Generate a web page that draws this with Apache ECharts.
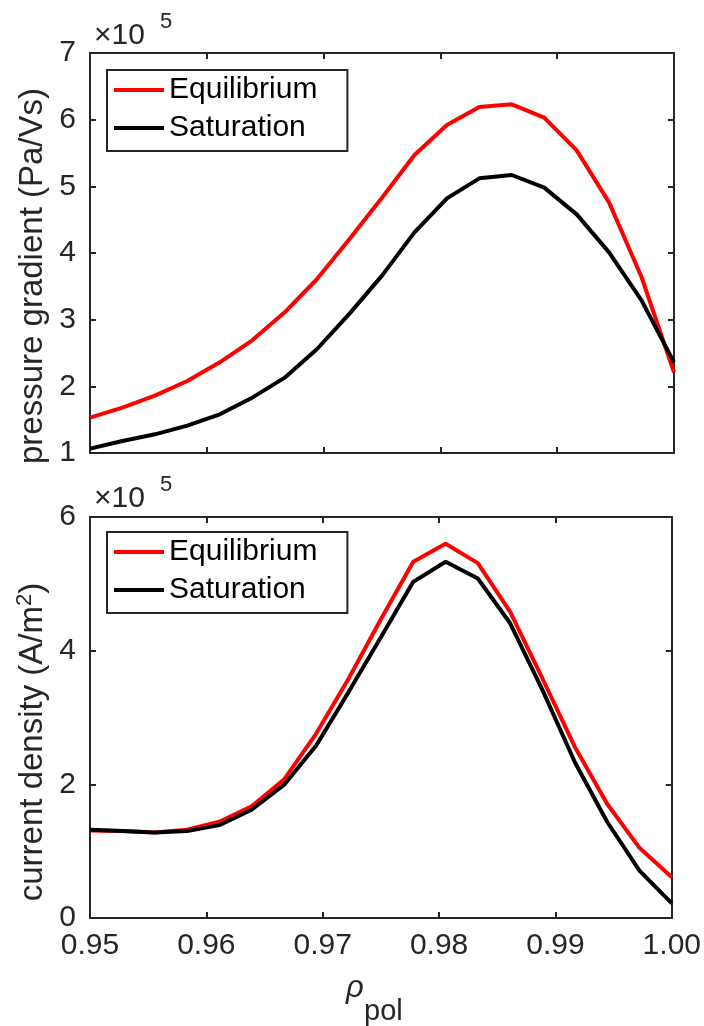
<!DOCTYPE html>
<html>
<head>
<meta charset="utf-8">
<script src="https://cdn.jsdelivr.net/npm/echarts@6/dist/echarts.min.js"></script>
<style>
html,body{margin:0;padding:0;background:#fff;}
#c{width:704px;height:1026px;}
</style>
</head>
<body>
<div id="c"></div>
<script>
// rho_pol grid (19 points)
const rho = [0.95000, 0.95278, 0.95556, 0.95833, 0.96111, 0.96389, 0.96667, 0.96944, 0.97222,
             0.97500, 0.97778, 0.98056, 0.98333, 0.98611, 0.98889, 0.99167, 0.99444, 0.99722, 1.00000];
// pressure gradient (x1e5 Pa/Vs)
const pgEquilibrium = [1.53, 1.68, 1.86, 2.08, 2.36, 2.69, 3.11, 3.61, 4.21, 4.83,
                       5.47, 5.92, 6.19, 6.23, 6.03, 5.54, 4.76, 3.64, 2.21];
const pgSaturation  = [1.065, 1.18, 1.28, 1.41, 1.58, 1.83, 2.13, 2.56, 3.09, 3.66,
                       4.31, 4.82, 5.12, 5.17, 4.98, 4.58, 4.01, 3.29, 2.36];
// current density (x1e5 A/m^2)
const jEquilibrium = [1.31, 1.30, 1.28, 1.32, 1.44, 1.67, 2.07, 2.76, 3.58, 4.47,
                      5.33, 5.60, 5.31, 4.58, 3.58, 2.56, 1.71, 1.05, 0.61];
const jSaturation  = [1.32, 1.30, 1.28, 1.30, 1.39, 1.62, 1.99, 2.58, 3.38, 4.20,
                      5.03, 5.33, 5.08, 4.41, 3.41, 2.33, 1.44, 0.71, 0.22];
const seriesNames = ['Equilibrium', 'Saturation'];
const seriesColors = ['#ff0000', '#000000'];
const yLabelTop = 'pressure gradient (Pa/Vs)';
const yLabelBottom = 'current density (A/m{sup|2})';

const FONT = '"Liberation Sans", Arial, Helvetica, sans-serif';
const AX = '#262626';

const pair = (xs, ys) => xs.map((x, i) => [x, ys[i]]);

function xAx(gridIndex, position, showLabels) {
  return {
    type: 'value', gridIndex, position, min: 0.95, max: 1.00, interval: 0.01,
    axisLine: {show: true, onZero: false, lineStyle: {color: AX, width: 2}},
    axisTick: {show: true, inside: true, length: 6, lineStyle: {color: AX, width: 2}},
    axisLabel: {show: showLabels, color: AX, fontSize: 30, fontFamily: FONT, margin: 13,
                formatter: v => v.toFixed(2)},
    splitLine: {show: false}
  };
}
function yAx(gridIndex, position, min, max, interval, showLabels) {
  return {
    type: 'value', gridIndex, position, min, max, interval,
    axisLine: {show: true, onZero: false, lineStyle: {color: AX, width: 2}},
    axisTick: {show: true, inside: true, length: 6, lineStyle: {color: AX, width: 2}},
    axisLabel: {show: showLabels, color: AX, fontSize: 30, fontFamily: FONT, margin: 14},
    splitLine: {show: false}
  };
}
function legend(top) {
  return {
    orient: 'vertical', left: 107, top, padding: [5, 30, 8, 7],
    itemGap: 8, itemWidth: 50, itemHeight: 4, icon: 'rect',
    borderColor: AX, borderWidth: 2, backgroundColor: '#fff',
    textStyle: {color: '#000', fontSize: 30, fontFamily: FONT, lineHeight: 30},
    data: seriesNames
  };
}
function line(name, color, xi, yi, data) {
  return {type: 'line', name, xAxisIndex: xi, yAxisIndex: yi, data, showSymbol: false, symbol: 'none',
          lineStyle: {color, width: 4}, itemStyle: {color}, animation: false, z: 3};
}
function txt(left, top, text, size, italic) {
  return {type: 'text', left, top, style: {text, fontSize: size, fontFamily: FONT,
          fontStyle: italic ? 'italic' : 'normal', fill: AX}};
}
function vtxt(x, y, text) {
  return {type: 'text', x, y, rotation: Math.PI / 2,
          style: {text, fontSize: 33, fontFamily: FONT, fill: AX, align: 'center', verticalAlign: 'middle',
                  rich: {sup: {fontSize: 22, fontFamily: FONT, fill: AX, padding: [0, 0, 16, 0]}}}};
}

const chart = echarts.init(document.getElementById('c'), null, {renderer: 'canvas'});
chart.setOption({
  backgroundColor: '#fff',
  animation: false,
  grid: [
    {left: 90, right: 30, top: 53, height: 400},
    {left: 90, right: 30, top: 517, height: 401}
  ],
  xAxis: [xAx(0, 'bottom', false), xAx(0, 'top', false), xAx(1, 'bottom', true), xAx(1, 'top', false)],
  yAxis: [yAx(0, 'left', 1, 7, 1, true), yAx(0, 'right', 1, 7, 1, false),
          yAx(1, 'left', 0, 6, 2, true), yAx(1, 'right', 0, 6, 2, false)],
  legend: [legend(70), legend(532)],
  series: [
    line(seriesNames[0], seriesColors[0], 0, 0, pair(rho, pgEquilibrium)),
    line(seriesNames[1], seriesColors[1], 0, 0, pair(rho, pgSaturation)),
    line(seriesNames[0], seriesColors[0], 2, 2, pair(rho, jEquilibrium)),
    line(seriesNames[1], seriesColors[1], 2, 2, pair(rho, jSaturation))
  ],
  graphic: [
    vtxt(33, 276, yLabelTop),
    vtxt(33, 742, yLabelBottom),
    txt(94, 21, '×10', 30),
    txt(160, 11, '5', 22),
    txt(94, 484, '×10', 30),
    txt(160, 474, '5', 22),
    txt(346, 973, 'ρ', 31, true),
    txt(364, 997, 'pol', 29)
  ]
});
</script>
</body>
</html>
